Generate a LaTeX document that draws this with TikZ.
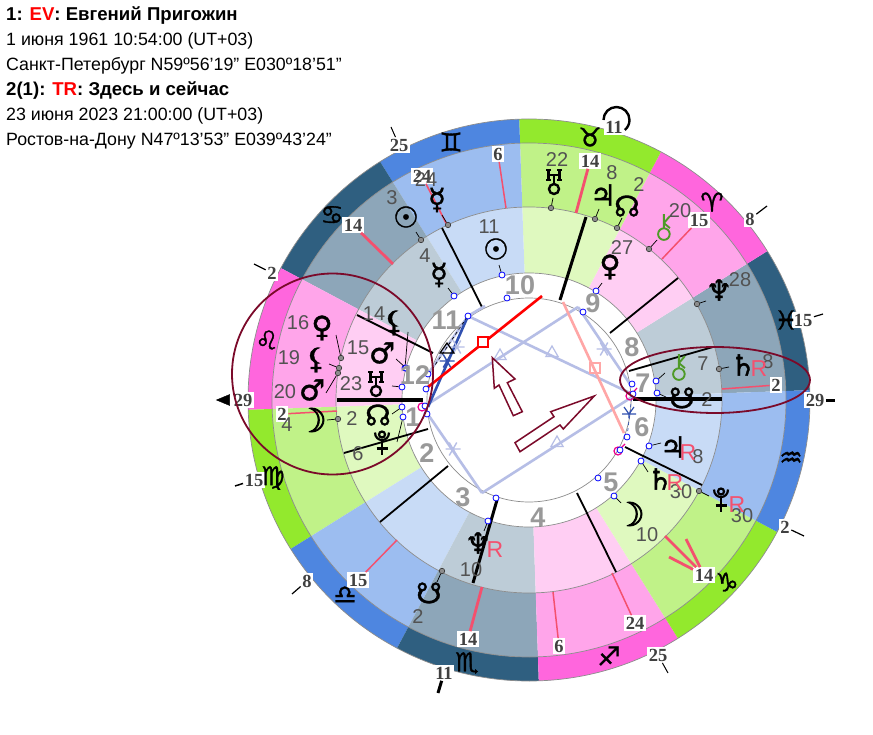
\documentclass[tikz,border=0pt]{standalone}
\usepackage{xcolor}
\usepackage{fontspec}
\setmainfont{Liberation Sans}
\newfontfamily\symfont[FakeBold=1.2]{DejaVu Sans}
\newfontfamily\symheavy[FakeBold=2.4]{DejaVu Sans}
\newfontfamily\labfont{Liberation Serif}
\usetikzlibrary{shapes.geometric, positioning}
\definecolor{fireA}{HTML}{FF66DD}\definecolor{fireB}{HTML}{FFA5EA}\definecolor{fireC}{HTML}{FFCEF3}
\definecolor{earthA}{HTML}{93E92D}\definecolor{earthB}{HTML}{C0F288}\definecolor{earthC}{HTML}{DFF9BF}
\definecolor{airA}{HTML}{4E86E0}\definecolor{airB}{HTML}{9CBDF0}\definecolor{airC}{HTML}{C8DBF6}
\definecolor{waterA}{HTML}{2F5F80}\definecolor{waterB}{HTML}{8DA6B9}\definecolor{waterC}{HTML}{BDCCD7}
\definecolor{cuspred}{HTML}{F4506E}
\definecolor{ringred}{HTML}{7B0A2A}
\definecolor{asplight}{HTML}{B6BEE6}
\definecolor{aspdark}{HTML}{3050B0}
\definecolor{chirongreen}{HTML}{4E9A28}
% variant glyphs drawn by hand
\newcommand{\plutov}{\tikz[baseline=-4pt,x=1pt,y=1pt,line width=2.2pt]{\draw (0,8) circle (3);\draw (-7,10) .. controls (-7,0) and (7,0) .. (7,10);\draw (0,3) -- (0,-12);\draw (-5.5,-6) -- (5.5,-6);}}
\newcommand{\uranusv}{\tikz[baseline=-4pt,x=1pt,y=1pt,line width=2.4pt]{\draw (0,-7) circle (5);\draw (-5.5,12) -- (-5.5,2) (5.5,12) -- (5.5,2) (-5.5,7) -- (5.5,7) (0,7) -- (0,-2);\draw[line width=1.4pt] (-8,12) -- (-3,12) (3,12) -- (8,12) (-8,2) -- (-3,2) (3,2) -- (8,2);}}
\newcommand{\chironv}{\tikz[baseline=-4pt,x=1pt,y=1pt,line width=1.9pt]{\draw (0,-6) circle (5.8);\draw (0,0) -- (0,14) (0,5) -- (6,12) (0,5) -- (6,0);}}
\newcommand{\moonv}{{\fontsize{33}{33}\selectfont\symheavy ☽}}
\begin{document}
\begin{tikzpicture}[x=1pt,y=-1pt,
  aspast/.pic={\draw[pic actions, line width=1.4pt] (0:7.5) -- (180:7.5) (60:7.5) -- (240:7.5) (120:7.5) -- (300:7.5);},
  head/.style={anchor=west, inner sep=0pt, font=\fontsize{17.8}{18}\selectfont},
  headb/.style={head, font=\bfseries\fontsize{18.6}{19}\selectfont},
  num/.style={inner sep=0pt, text=black!68, font=\fontsize{20}{20}\selectfont},
  retro/.style={inner sep=0pt, text=cuspred, font=\fontsize{23}{23}\selectfont},
  house/.style={inner sep=0pt, text=black!40, font=\bfseries\fontsize{27}{27}\selectfont},
  lab/.style={fill=white, inner sep=1.5pt, text=black!75, font=\labfont\bfseries\fontsize{18.5}{19}\selectfont},
  sym/.style={inner sep=0pt, font=\fontsize{29}{29}\selectfont\symfont},
  zod/.style={inner sep=0pt, font=\fontsize{26}{26}\selectfont\symfont},
  tmark/.style={circle, draw=black!80, fill=black!45, inner sep=0pt, minimum size=5.5pt, line width=.6pt},
  nmark/.style={circle, draw=blue, fill=white, inner sep=0pt, minimum size=6pt, line width=.8pt},
  pmark/.style={circle, draw=magenta, inner sep=0pt, minimum size=8pt, line width=1.2pt},
  leader/.style={line width=.7pt},
  asptri/.style={regular polygon, regular polygon sides=3, draw=asplight, inner sep=0pt, minimum size=14pt, line width=1.2pt},
  aspsq/.style={rectangle, draw, inner sep=0pt, minimum size=10pt, line width=1.8pt},
  asp/.style={draw=asplight, line width=2.6pt},
  bigarrow/.style={draw=ringred, fill=white, line width=1.5pt},
  focus/.style={draw=ringred, line width=1.8pt}
]
  \useasboundingbox (0,0) rectangle (873,735);

  % header lines
  \node[headb] (t1) at (6,16) {1: \textcolor{red}{EV}: Евгений Пригожин};
  \node[head] (t2) at (6,41) {1 июня 1961 10:54:00 (UT+03)};
  \node[head] (t3) at (6,66) {Санкт-Петербург N59º56'19" E030º18'51"};
  \node[headb] (t4) at (6,91) {2(1): \textcolor{red}{TR}: Здесь и сейчас};
  \node[head] (t5) at (6,116) {23 июня 2023 21:00:00 (UT+03)};
  \node[head] (t6) at (6,141) {Ростов-на-Дону N47º13'53" E039º43'24"};

  % the rings
  \begin{scope}[shift={(529,400)},y=1pt]
    \foreach \a/\el in {2/water,32/fire,62/earth,92/air,122/water,152/fire,182/earth,212/air,242/water,272/fire,302/earth,332/air} {
      \fill[\el A] (\a:281) arc[start angle=\a, delta angle=30, radius=281] -- ({\a+30}:257) arc[start angle=\a+30, delta angle=-30, radius=257] -- cycle;
      \fill[\el B] (\a:257) arc[start angle=\a, delta angle=30, radius=257] -- ({\a+30}:193) arc[start angle=\a+30, delta angle=-30, radius=193] -- cycle;
      \fill[\el C] (\a:193) arc[start angle=\a, delta angle=30, radius=193] -- ({\a+30}:127) arc[start angle=\a+30, delta angle=-30, radius=127] -- cycle;
    }
    \fill[white] (0,0) circle (127);
    \foreach \r in {281,257,193,127,102} \draw[black!45, line width=.7pt] (0,0) circle (\r);
  \end{scope}

  % house cusps
  \foreach \xa/\ya/\xb/\yb/\w in {482/307/442/228/1.8, 433/353/357/315/1.8, 337/400/423/400/3.6, 428/429/344/453/1.8, 448/466/380/522/1.8, 497/500/473/583/3, 577/493/616/572/1.8, 625/447/702/485/1.8, 633/399/722/399/3.6, 629/371/713/347/1.8, 610/333/678/278/1.8, 560/300/586/217/3}
    \draw[line width=\w pt] (\xa,\ya) -- (\xb,\yb);

  % labels on the outer cusps, with what runs to them
  \foreach \x/\y/\txt/\ex/\ey/\w [count=\i] in {498/154/6/506/208/1.5, 353/225/14/393/264/2.8, 422/176/24/447/225/1.6, 590/161/14/576/213/2.8, 699/220/15/662/259/1.5, 776/385/2/722/389/1.5, 635/623/24/612/573/1.5, 559/646/6/553/592/1.5, 468/639/14/482/587/2.8, 358/580/15/397/540/1.5, 282/414/2/337/411/1.5, 704/575/14/665/536/2.8} {
    \node[lab] (c\i) at (\x,\y) {\txt};
    \coordinate (ce\i) at (\ex,\ey);
    \draw[cuspred, line width=\w pt] (ce\i) -- (c\i);
  }
  \coordinate (ce13) at (686,539);
  \coordinate (ce14) at (669,557);
  \draw[cuspred, line width=2.8pt] (ce13) -- (c12);
  \draw[cuspred, line width=2.8pt] (ce14) -- (c12);

  % outer labels and their ticks
  \foreach \x/\y/\txt/\ex/\ey/\w [count=\i] in {399/145/25/391/127/1, 272/273/2/254/264/1.2, 254/480/15/235/486/1.5, 307/581/8/292/594/1.2, 444/673/11/438/693/3, 658/655/25/668/673/1, 785/527/2/804/536/1.2, 815/400/29/835/400/3, 803/320/15/823/314/1.2, 750/219/8/767/206/1.2} {
    \node[lab] (o\i) at (\x,\y) {\txt};
    \coordinate (oe\i) at (\ex,\ey);
    \draw[line width=\w pt] (o\i) -- (oe\i);
  }
  \node[lab] (asc) at (243,400) {29};
  \node[draw, fill=black, isosceles triangle, shape border rotate=180, inner sep=0pt, minimum height=13pt, minimum width=11pt] (ascarrow) at (226,400) {};
  \node[lab] (top) at (614,127) {11};
  \draw[line width=2.4pt] (603.5,120) arc[start angle=180, delta angle=230, radius=13];

  % signs
  \foreach \x/\y/\s [count=\i] in {451/142/♊, 332/215/♋, 267/340/♌, 273/478/♍, 345/595/♎, 467/663/♏, 609/656/♐, 727/582/♑, 791/459/♒, 786/320/♓, 712/202/♈, 590/137/♉}
    \node[zod] (z\i) at (\x,\y) {\s};

  % aspects in the middle
  \draw[asp] (468,316) -- (630,393);
  \draw[asp] (425,406) -- (578,307);
  \draw[asp] (427,413) -- (482,493);
  \draw[asp] (482,493) -- (632,397);
  \draw[asp] (578,307) -- (632,387);
  \draw[asp] (485,306) -- (468,316);
  \draw[asp] (468,316) -- (428,374);
  \draw[draw=red!35, line width=2.6pt] (563,302) -- (624,433);
  \node[aspsq, draw=red!35] (sqb) at (595,368) {};
  \draw[draw=aspdark, line width=2.6pt] (468,316) -- (428,407);
  \draw[red, line width=2.6pt] (542,296) -- (428,387);
  \node[aspsq, draw=red, fill=white] (sqa) at (483,342) {};
  \draw[dashed, line width=.7pt] (467,317) -- (427,377);
  \draw[dashed, aspdark, line width=.7pt] (627,437) -- (632,395);
  \node[asptri] (tr1) at (552,353) {};
  \node[asptri] (tr2) at (500,356) {};
  \node[asptri] (tr3) at (557,443) {};
  \foreach \x/\y [count=\i] in {453/449, 604/349, 457/347}
    \pic[draw=asplight] (st\i) at (\x,\y) {aspast};
  \pic[draw=aspdark] (st4) at (447,361) {aspast};
  \draw[aspdark, line width=1.2pt] (622,414) -- (636,414) (624,407) -- (629,414) -- (634,407) (629,414) -- (629,418);
  \draw[line width=1.2pt] (440,353) -- (454,353) -- (447,343) -- cycle;
  \node[pmark] (pa) at (422,407) {};
  \node[pmark] (pb) at (630,396) {};
  \node[pmark] (pc) at (618,451) {};
  \draw[magenta, line width=1.2pt] (pb) -- (637,388);
  \draw[magenta, line width=1.2pt] (pc) -- (625,444);
  \foreach \x/\y [count=\i] in {468/316, 507/298, 583/312, 632/384, 633/394, 627/437, 620/450, 598/478, 496/498, 425/406, 427/414, 426/389, 428/374}
    \node[nmark] (a\i) at (\x,\y) {};
  \draw[bigarrow] (492.3,357.7) -- (515,379) -- (507.3,382.7) -- (522.3,411.7) -- (513.3,415.7) -- (499,385) -- (494.3,388.3) -- cycle;
  \draw[bigarrow] (594.3,396) -- (550.7,411.7) -- (554,416.7) -- (515,442.7) -- (520,451.7) -- (560,425) -- (563.3,429) -- cycle;

  % transit planets
  \foreach \mx/\my/\ex/\ey/\gx/\gy/\s/\nx/\ny/\n [count=\i] in {
    448/225/442/215/437/200/☿/426/180/24,
    421/240/416/232/406/217/☉/392/198/3,
    341/358/336/335/322/328/♀/298/323/16,
    339/368/329/364/316/360/⚸/289/358/19,
    338/373/326/393/312/390/♂/285/392/20,
    338/419/327/420/312/420/\moonv/287/425/4,
    551/208/553/198/554/182/\uranusv/557/160/22,
    595/219/599/209/603/195/♃/612/173/8,
    617/228/622/218/627/206/☊/639/185/2,
    697/304/706/301/719/290/♆/740/280/28,
    719/369/729/367/743/365/♄/768/362/8,
    699/491/709/496/721/500/\plutov/742/516/30,
    442/571/437/582/429/593/☋/418/617/2,
    649/249/657/240/664/227/{\textcolor{chirongreen}{\chironv}}/680/211/20} {
    \node[tmark] (tp\i) at (\mx,\my) {};
    \coordinate (te\i) at (\ex,\ey);
    \draw[leader] (tp\i) -- (te\i);
    \node[sym] (tg\i) at (\gx,\gy) {\s};
    \node[num] (tn\i) at (\nx,\ny) {\n};
  }
  \node[num] (tn15) at (352,419) {2};
  \node[retro] (tr4) at (759,369) {R};
  \node[retro] (tr5) at (737,505) {R};

  % natal planets
  \foreach \mx/\my/\ex/\ey/\gx/\gy/\s/\nx/\ny/\n [count=\i] in {
    502/275/499/265/496/249/☉/489/227/11,
    454/296/448/288/439/275/☿/425/256/4,
    405/368/408/332/394/323/⚸/374/314/14,
    406/368/396/359/382/353/♂/358/348/15,
    402/387/392/386/376/384/\uranusv/351/384/23,
    402/407/392/414/378/415/☊/0/0/,
    403/417/397/442/382/443/\plutov/358/454/6,
    596/291/602/283/610/267/♀/622/248/27,
    657/393/666/397/682/398/☋/707/400/2,
    649/446/661/443/673/447/♃/698/457/8,
    641/461/648/472/660/479/♄/681/492/30,
    614/496/621/503/630/514/\moonv/647/535/10,
    488/521/484/531/478/543/♆/471/570/10,
    656/381/665/373/679/367/{\textcolor{chirongreen}{\chironv}}/703/364/7} {
    \node[nmark] (np\i) at (\mx,\my) {};
    \coordinate (ne\i) at (\ex,\ey);
    \draw[leader] (np\i) -- (ne\i);
    \node[sym] (ng\i) at (\gx,\gy) {\s};
    \node[num] (nn\i) at (\nx,\ny) {\n};
  }
  \node[retro] (nr1) at (688,453) {R};
  \node[retro] (nr2) at (675,483) {R};
  \node[retro] (nr3) at (495,550) {R};

  % house numbers
  \foreach \x/\y/\h in {520/285/10, 446/320/11, 415/375/12, 413/417/1, 427/453/2, 463/497/3, 538/517/4, 611/482/5, 642/427/6, 643/383/7, 632/347/8, 593/303/9}
    \node[house] (h\h) at (\x,\y) {\h};

  % circled areas
  \node[focus, circle, minimum size=201pt, inner sep=0pt] (fa) at (332.5,374) {};
  \node[focus, ellipse, minimum width=190pt, minimum height=66pt, inner sep=0pt] (fb) at (715,380) {};
\end{tikzpicture}
\end{document}
